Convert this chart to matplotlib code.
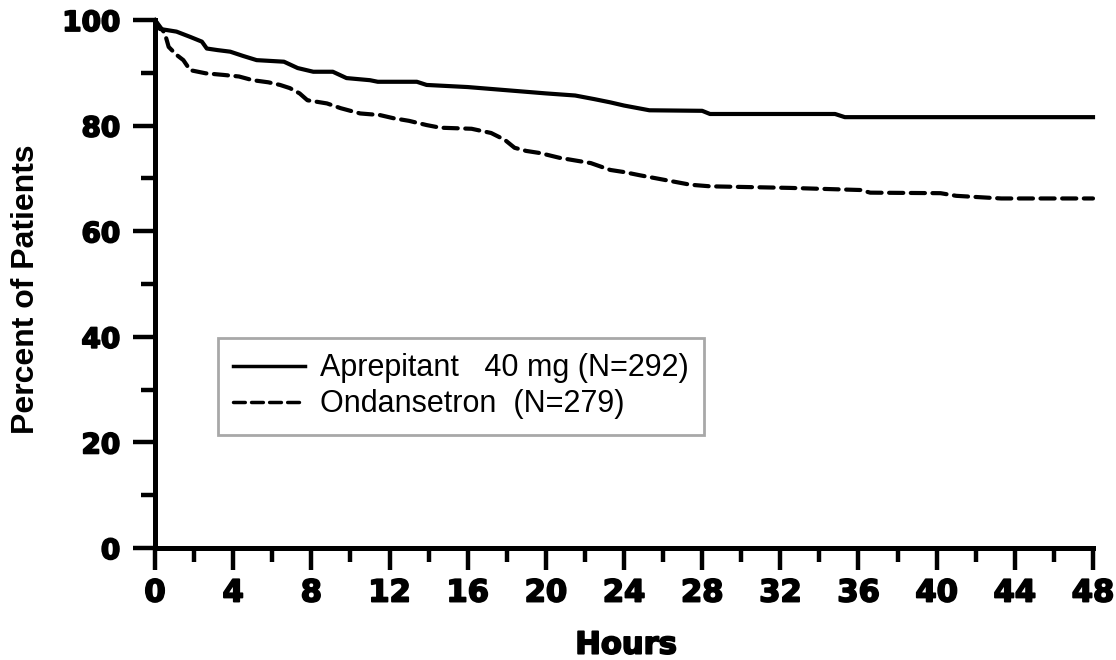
import matplotlib
matplotlib.use("Agg")
import matplotlib.pyplot as plt
import matplotlib.patheffects as pe
from matplotlib import font_manager
from matplotlib.ticker import MultipleLocator

# Survival-style curves (hours, percent of patients)
aprep_t = [0, 0.25, 0.6, 1.1, 1.8, 2.4, 2.65, 3.2, 3.85, 4.5, 5.2, 6.6, 7.3, 8.1,
           9.1, 9.8, 11.0, 11.4, 13.4, 13.9, 16.0, 18.0, 20.0, 21.5, 22.5, 23.3,
           24.0, 25.3, 28.0, 28.4, 34.8, 35.3, 48]
aprep_p = [100, 98.3, 98.1, 97.8, 96.8, 95.9, 94.6, 94.3, 94.0, 93.2, 92.4, 92.1,
           90.9, 90.2, 90.2, 89.0, 88.6, 88.3, 88.3, 87.7, 87.3, 86.7, 86.1, 85.7,
           85.0, 84.4, 83.8, 82.9, 82.8, 82.2, 82.2, 81.6, 81.6]

ond_t = [0, 0.3, 0.5, 0.7, 1.1, 1.45, 1.8, 2.6, 3.5, 4.3, 5.0, 5.8, 6.4, 6.9, 7.4,
         7.8, 8.8, 9.5, 10.5, 11.5, 12.2, 13.0, 13.9, 14.6, 16.2, 17.2, 17.9,
         18.4, 19.0, 19.7, 20.7, 21.5, 22.3, 23.3, 24.0, 24.8, 26.1, 27.4, 28.4,
         32.5, 36.1, 36.6, 40.2, 41.0, 43.3, 48]
ond_p = [100, 98.5, 97.5, 94.9, 93.4, 92.4, 90.5, 89.9, 89.6, 89.3, 88.6, 88.2,
         87.7, 87.1, 86.1, 84.8, 84.2, 83.3, 82.3, 82.0, 81.4, 80.9, 80.1, 79.6,
         79.4, 78.6, 77.3, 75.8, 75.2, 74.8, 73.9, 73.4, 72.9, 71.6, 71.2, 70.6,
         69.7, 68.8, 68.5, 68.2, 67.8, 67.3, 67.2, 66.7, 66.2, 66.2]

labels = ["Aprepitant   40 mg (N=292)", "Ondansetron  (N=279)"]
x_ticks = list(range(0, 49, 4))
y_ticks = list(range(0, 101, 20))

names = {f.name for f in font_manager.fontManager.ttflist}
if "Liberation Sans Narrow" in names:
    ylab_font, ylab_size = "Liberation Sans Narrow", 27
else:
    ylab_font, ylab_size = "Liberation Sans", 23

# a thin stroke to get the heavier look of the original digits
heavy = [pe.withStroke(linewidth=1.3, foreground="black")]

fig = plt.figure(figsize=(11.16, 6.6), dpi=100)
ax = fig.add_axes([155 / 1116, 112 / 660, 938 / 1116, 528 / 660])

ax.plot(aprep_t, aprep_p, color="black", lw=3, solid_joinstyle="round",
        clip_on=False, label=labels[0])
ax.plot(ond_t, ond_p, color="black", lw=3, dashes=(3.4, 1.8),
        dash_capstyle="round", clip_on=False, label=labels[1])

ax.set_xlim(0, 48)
ax.set_ylim(0, 100)
ax.set_xticks(x_ticks)
ax.set_yticks(y_ticks)
ax.xaxis.set_minor_locator(MultipleLocator(2))
ax.yaxis.set_minor_locator(MultipleLocator(10))

for side in ["top", "right"]:
    ax.spines[side].set_visible(False)
for side in ["left", "bottom"]:
    ax.spines[side].set_linewidth(3.6)
    ax.spines[side].set_capstyle("projecting")

ax.tick_params(which="major", direction="out", length=16, width=3.2)
ax.tick_params(which="minor", direction="out", length=10, width=3.2)
ax.tick_params(axis="x", which="major", pad=6)
ax.tick_params(axis="y", which="major", pad=9)

for lab in ax.get_xticklabels():
    lab.set_fontfamily("DejaVu Sans")
    lab.set_fontweight("bold")
    lab.set_fontsize(22)
    lab.set_path_effects(heavy)
for lab in ax.get_yticklabels():
    lab.set_fontfamily("DejaVu Sans")
    lab.set_fontweight("bold")
    lab.set_fontsize(20)
    lab.set_path_effects(heavy)

ax.set_xlabel("Hours", fontfamily="DejaVu Sans", fontweight="bold", fontsize=22,
              path_effects=heavy)
ax.xaxis.label.set_va("center")
ax.xaxis.set_label_coords(0.502, -0.184)
ax.set_ylabel("Percent of Patients", fontfamily=[ylab_font, "DejaVu Sans"],
              fontweight="bold", fontsize=ylab_size)
ax.yaxis.label.set_va("center")
ax.yaxis.set_label_coords(-0.137, 0.49)

leg = ax.legend(loc="upper left", bbox_to_anchor=(218 / 1116, 1 - 338 / 660),
                bbox_transform=fig.transFigure, borderaxespad=0,
                prop={"family": "Liberation Sans", "size": 22},
                handlelength=2.35, handletextpad=0.5, borderpad=0.5,
                labelspacing=0.2, fancybox=False, framealpha=1)
leg.get_frame().set_edgecolor("#a8a8a8")
leg.get_frame().set_linewidth(2)
for h in leg.get_lines():
    h.set_linewidth(2.5)

fig.savefig("out.png", dpi=100)
